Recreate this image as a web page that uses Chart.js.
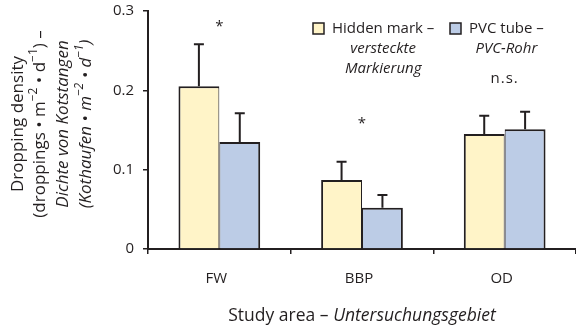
<!DOCTYPE html>
<html>
<head>
<meta charset="utf-8">
<script src="https://cdn.jsdelivr.net/npm/chart.js@4.4.1/dist/chart.umd.min.js"></script>
<style>
  html, body { margin: 0; padding: 0; background: #fff; }
  #wrap { width: 576px; height: 327px; position: relative; }
</style>
</head>
<body>
<div id="wrap"><canvas id="c"></canvas></div>
<script>
// Study areas and mean dropping densities (droppings per m² per day)
const categories = ['FW', 'BBP', 'OD'];
const hiddenMark = [0.205, 0.087, 0.145];
const hiddenMarkErr = [0.053, 0.023, 0.023];
const pvcTube = [0.135, 0.052, 0.151];
const pvcTubeErr = [0.036, 0.016, 0.022];
// Significance of the difference per study area, and the level it is written at
const significance = ['*', '*', 'n.s.'];
const significanceAt = [0.28, 0.158, 0.214];
const yTickLabels = ['0', '0.1', '0.2', '0.3'];

const FONT = '"Open Sans", "Noto Sans", sans-serif';
const INK = '#231f20';
const YELLOW = '#fff4c8';
const BLUE = '#bccce6';

function font(size, italic) {
  return (italic ? 'italic ' : '') + size + 'px ' + FONT;
}

// Draw a line of mixed roman / italic / superscript text centred on (x, y)
function drawRich(ctx, segs, x, y, size) {
  const supSize = Math.round(size * 0.68);
  let total = 0;
  const widths = segs.map(s => {
    ctx.font = font(s.s ? supSize : size, s.i);
    const w = ctx.measureText(s.t).width;
    total += w;
    return w;
  });
  let cx = x - total / 2;
  ctx.textAlign = 'left';
  ctx.textBaseline = 'middle';
  segs.forEach((s, k) => {
    ctx.font = font(s.s ? supSize : size, s.i);
    ctx.fillText(s.t, cx, s.s ? y - size * 0.38 : y);
    cx += widths[k];
  });
}

const errorBars = {
  id: 'errorBars',
  afterDatasetsDraw(chart) {
    const ctx = chart.ctx;
    const y = chart.scales.y;
    const errs = [hiddenMarkErr, pvcTubeErr];
    ctx.save();
    ctx.strokeStyle = INK;
    ctx.lineWidth = 2;
    chart.data.datasets.forEach((ds, di) => {
      chart.getDatasetMeta(di).data.forEach((bar, i) => {
        const top = y.getPixelForValue(ds.data[i] + errs[di][i]);
        ctx.beginPath();
        ctx.moveTo(bar.x, bar.y);
        ctx.lineTo(bar.x, top);
        ctx.moveTo(bar.x - 5, top);
        ctx.lineTo(bar.x + 5, top);
        ctx.stroke();
      });
    });
    ctx.restore();
  }
};

const annotations = {
  id: 'annotations',
  afterDraw(chart) {
    const ctx = chart.ctx;
    const xs = chart.scales.x, ys = chart.scales.y;
    ctx.save();
    ctx.fillStyle = INK;

    // category names under the axis
    ctx.font = font(15, false);
    ctx.textAlign = 'center';
    ctx.textBaseline = 'middle';
    categories.forEach((c, i) => ctx.fillText(c, xs.getPixelForValue(i) - 3, 279));

    // significance marks above each study area
    significance.forEach((t, i) => {
      ctx.font = font(15, false);
      ctx.letterSpacing = t.length > 1 ? '1px' : '0px';
      ctx.textAlign = 'center';
      ctx.textBaseline = 'middle';
      ctx.fillText(t, xs.getPixelForValue(i), ys.getPixelForValue(significanceAt[i]));
    });
    ctx.letterSpacing = '0px';

    // legend
    const items = [
      { color: YELLOW, x: 313, lines: ['Hidden mark –', 'versteckte', 'Markierung'] },
      { color: BLUE, x: 450, lines: ['PVC tube –', 'PVC-Rohr'] }
    ];
    items.forEach(it => {
      ctx.fillStyle = it.color;
      ctx.fillRect(it.x, 23, 11, 11);
      ctx.strokeStyle = INK;
      ctx.lineWidth = 1.5;
      ctx.strokeRect(it.x, 23, 11, 11);
      ctx.fillStyle = INK;
      ctx.font = font(15, false);
      ctx.textAlign = 'left';
      ctx.textBaseline = 'middle';
      const tx = it.x + 19;
      ctx.fillText(it.lines[0], tx, 29);
      const cx = tx + ctx.measureText(it.lines[0]).width / 2;
      ctx.font = font(15, true);
      ctx.textAlign = 'center';
      for (let k = 1; k < it.lines.length; k++) {
        ctx.fillText(it.lines[k], cx, 29 + 20 * k);
      }
    });

    // x axis title
    const xt = [{ t: 'Study area – ' }, { t: 'Untersuchungsgebiet', i: true }];
    drawRich(ctx, xt, (chart.chartArea.left + chart.chartArea.right) / 2, 316, 17.5);

    // y axis title, four rotated lines
    const ylines = [
      [{ t: 'Dropping density' }],
      [{ t: '(droppings • m' }, { t: '−2', s: true }, { t: ' • d' }, { t: '−1', s: true }, { t: ') –' }],
      [{ t: 'Dichte von Kotstangen', i: true }],
      [{ t: '(Kothaufen • m', i: true }, { t: '−2', s: true, i: true }, { t: ' • d', i: true }, { t: '−1', s: true, i: true }, { t: ')', i: true }]
    ];
    const cols = [18, 40, 63, 86];
    ylines.forEach((segs, k) => {
      ctx.save();
      ctx.translate(cols[k], 124);
      ctx.rotate(-Math.PI / 2);
      drawRich(ctx, segs, 0, 0, 17);
      ctx.restore();
    });
    ctx.restore();
  }
};

new Chart(document.getElementById('c'), {
  type: 'bar',
  data: {
    labels: categories,
    datasets: [
      {
        label: 'Hidden mark – versteckte Markierung',
        data: hiddenMark,
        backgroundColor: YELLOW,
        borderColor: INK,
        borderWidth: { top: 2, left: 2, right: 1, bottom: 0 },
        borderSkipped: false
      },
      {
        label: 'PVC tube – PVC-Rohr',
        data: pvcTube,
        backgroundColor: BLUE,
        borderColor: INK,
        borderWidth: { top: 2, left: 1, right: 2, bottom: 0 },
        borderSkipped: false
      }
    ]
  },
  options: {
    responsive: true,
    maintainAspectRatio: false,
    animation: false,
    events: [],
    layout: { padding: { top: 11, right: 0, left: 0, bottom: 0 } },
    datasets: { bar: { categoryPercentage: 0.573, barPercentage: 1.0 } },
    plugins: { legend: { display: false }, tooltip: { enabled: false } },
    scales: {
      x: {
        z: 1,
        afterFit: s => { s.height = 78; s.paddingLeft = 0; s.paddingRight = 0; },
        border: { display: true, color: INK, width: 2 },
        grid: { offset: true, drawOnChartArea: false, drawTicks: true, tickLength: 5, color: INK, lineWidth: 1.5 },
        ticks: { display: false }
      },
      y: {
        min: 0,
        max: 0.3,
        afterFit: s => { s.width = 148; s.paddingTop = 0; s.paddingBottom = 0; },
        border: { display: true, color: INK, width: 2 },
        grid: { drawOnChartArea: false, drawTicks: true, tickLength: 5, color: INK, lineWidth: 1.5 },
        ticks: {
          stepSize: 0.1,
          color: INK,
          font: { family: FONT, size: 15 },
          padding: 9,
          callback: (v, i) => yTickLabels[i]
        }
      }
    }
  },
  plugins: [errorBars, annotations]
});
</script>
</body>
</html>
